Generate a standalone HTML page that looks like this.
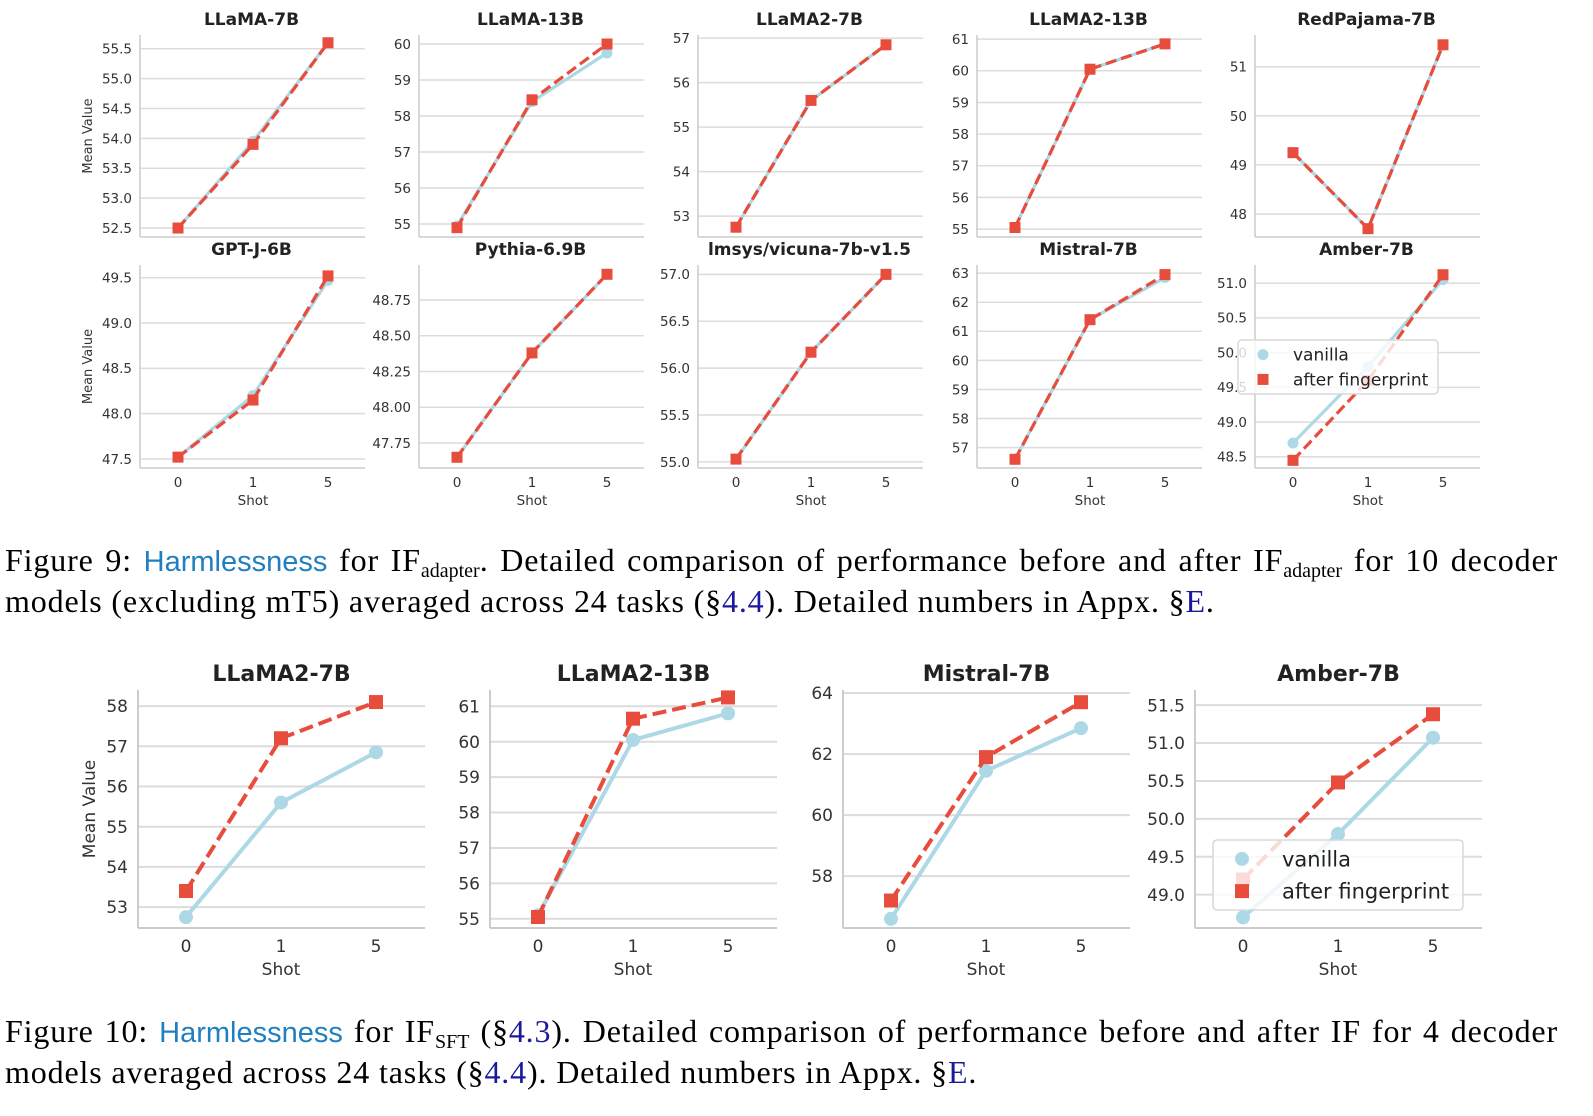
<!DOCTYPE html>
<html><head><meta charset="utf-8">
<style>
html,body{margin:0;padding:0;background:#fff;}
body{width:1593px;height:1116px;position:relative;overflow:hidden;}
svg{position:absolute;left:0;top:0;}
.cap{position:absolute;left:5px;width:1553px;font-family:"Liberation Serif",serif;font-size:32px;letter-spacing:0.85px;color:#000;white-space:nowrap;line-height:34px;}
.j{text-align:justify;text-align-last:justify;}
.hl{font-family:"Liberation Sans",sans-serif;color:#1f7fc0;font-size:29px;letter-spacing:0;}
.rf{color:#1a1a9c;}
sub{font-size:20px;vertical-align:-6px;line-height:0;letter-spacing:0;}
</style></head>
<body>
<svg id="chart" width="1593" height="1116"></svg>
<div class="cap j" style="top:543px">Figure 9: <span class="hl">Harmlessness</span> for IF<sub>adapter</sub>. Detailed comparison of performance before and after IF<sub>adapter</sub> for 10 decoder</div>
<div class="cap" style="top:584px">models (excluding mT5) averaged across 24 tasks (§<span class="rf">4.4</span>). Detailed numbers in Appx. §<span class="rf">E</span>.</div>
<div class="cap j" style="top:1014px">Figure 10: <span class="hl">Harmlessness</span> for IF<sub>SFT</sub> (§<span class="rf">4.3</span>). Detailed comparison of performance before and after IF for 4 decoder</div>
<div class="cap" style="top:1055px">models averaged across 24 tasks (§<span class="rf">4.4</span>). Detailed numbers in Appx. §<span class="rf">E</span>.</div>
<script>
const categories = ["0","1","5"];
const titles = ["LLaMA-7B","LLaMA-13B","LLaMA2-7B","LLaMA2-13B","RedPajama-7B","GPT-J-6B","Pythia-6.9B","lmsys/vicuna-7b-v1.5","Mistral-7B","Amber-7B","LLaMA2-7B","LLaMA2-13B","Mistral-7B","Amber-7B"];
const vanilla = [[52.5,53.95,55.6],[54.95,58.4,59.75],[52.75,55.6,56.85],[55.05,60.05,60.85],[49.25,47.7,51.45],[47.52,48.2,49.47],[47.65,48.38,48.93],[55.03,56.17,57.0],[56.6,61.4,62.85],[48.7,49.8,51.05],[52.75,55.6,56.85],[55.1,60.05,60.8],[56.6,61.45,62.85],[48.7,49.8,51.07]];
const fingerprint = [[52.5,53.9,55.6],[54.9,58.45,60.0],[52.75,55.6,56.85],[55.05,60.05,60.85],[49.25,47.7,51.45],[47.52,48.15,49.52],[47.65,48.38,48.93],[55.03,56.17,57.0],[56.6,61.4,62.95],[48.45,49.6,51.12],[53.4,57.2,58.1],[55.05,60.65,61.25],[57.2,61.9,63.7],[49.2,50.48,51.38]];
const yDomains = [[52.35,55.73],[54.64,60.25],[52.53,57.07],[54.75,61.13],[47.53,51.65],[47.4,49.64],[47.575,48.995],[54.935,57.1],[56.3,63.28],[48.34,51.26],[52.48,58.4],[54.74,61.46],[56.3,64.1],[48.56,51.7]];
const yTicks = [["52.5","53.0","53.5","54.0","54.5","55.0","55.5"],["55","56","57","58","59","60"],["53","54","55","56","57"],["55","56","57","58","59","60","61"],["48","49","50","51"],["47.5","48.0","48.5","49.0","49.5"],["47.75","48.00","48.25","48.50","48.75"],["55.0","55.5","56.0","56.5","57.0"],["57","58","59","60","61","62","63"],["48.5","49.0","49.5","50.0","50.5","51.0"],["53","54","55","56","57","58"],["55","56","57","58","59","60","61"],["58","60","62","64"],["49.0","49.5","50.0","50.5","51.0","51.5"]];

const NS="http://www.w3.org/2000/svg";
const svg=document.getElementById('chart');
function mk(tag,attrs,parent){const e=document.createElementNS(NS,tag);for(const k in attrs)e.setAttribute(k,attrs[k]);(parent||svg).appendChild(e);return e;}
const VC="#add8e6", FC="#e74c3c";
const topLefts=[140,419,698,977,1255];
function layout(i){
  if(i<10){const c=i%5,r=Math.floor(i/5);return {L:topLefts[c],W:225,T:r?265:35,B:r?468:237,off:38,sp:75,big:false,row:r};}
  const c=i-10;return {L:[138,490,843,1195][c],W:287,T:690,B:928,off:48,sp:95,big:true,row:2};
}
for(let i=0;i<titles.length;i++){
  const g=mk('g',{});
  
  
  const p=layout(i);const [y0,y1]=yDomains[i];
  const ys=v=>p.B-(v-y0)/(y1-y0)*(p.B-p.T);
  const xs=j=>p.L+p.off+j*p.sp;
  const fs=p.big?17:13.5;
  yTicks[i].forEach(t=>{const y=ys(parseFloat(t));
    const gl=mk('line',{x1:p.L,x2:p.L+p.W,y1:y,y2:y,stroke:"#dcdcdc","stroke-width":p.big?2:1.5},g);
    
    
    const tx=mk('text',{x:p.L-(p.big?10:8),y:y+fs*0.36,"text-anchor":"end","font-family":"DejaVu Sans, sans-serif","font-size":fs,fill:"#333"},g);tx.textContent=t;
    
    
  });
  mk('line',{x1:p.L,x2:p.L,y1:p.T,y2:p.B,stroke:"#cccccc","stroke-width":p.big?2:1.5},g);
  mk('line',{x1:p.L,x2:p.L+p.W,y1:p.B,y2:p.B,stroke:"#cccccc","stroke-width":p.big?2:1.5},g);
  const tt=mk('text',{x:p.L+p.W/2-(p.big?0:(p.off-37)),y:p.T-(p.big?9:10),"text-anchor":"middle","font-family":"DejaVu Sans, sans-serif","font-weight":"bold","font-size":p.big?22:17,fill:"#222"},g);tt.textContent=titles[i];
  
  
  if(p.row>=1){
    categories.forEach((c,j)=>{const t=mk('text',{x:xs(j),y:p.B+(p.big?24:19),"text-anchor":"middle","font-family":"DejaVu Sans, sans-serif","font-size":fs,fill:"#333"},g);t.textContent=c;
      
      });
    const xl=mk('text',{x:xs(1),y:p.B+(p.big?47:37),"text-anchor":"middle","font-family":"DejaVu Sans, sans-serif","font-size":fs,fill:"#333"},g);xl.textContent="Shot";
    
    
  }
  if(i===0||i===5||i===10){
    const cy=(p.T+p.B)/2, cx=p.big?95:92;
    const yl=mk('text',{x:cx,y:cy,"text-anchor":"middle",transform:`rotate(-90 ${cx} ${cy})`,"font-family":"DejaVu Sans, sans-serif","font-size":p.big?17:13,fill:"#333"},g);yl.textContent="Mean Value";
    
    
  }
  const lw=p.big?4:3.2;
  const vl=mk('polyline',{points:vanilla[i].map((v,j)=>xs(j)+","+ys(v)).join(" "),fill:"none",stroke:VC,"stroke-width":lw},g);
  
  
  vanilla[i].forEach((v,j)=>{const c=mk('circle',{cx:xs(j),cy:ys(v),r:p.big?7:5.5,fill:VC},g);
    
    });
  const fl=mk('polyline',{points:fingerprint[i].map((v,j)=>xs(j)+","+ys(v)).join(" "),fill:"none",stroke:FC,"stroke-width":lw,"stroke-dasharray":p.big?"14,6":"11,5"},g);
  
  
  const s=p.big?14:11;
  fingerprint[i].forEach((v,j)=>{const r=mk('rect',{x:xs(j)-s/2,y:ys(v)-s/2,width:s,height:s,fill:FC},g);
    
    });
}
function legend(x,y,w,h,big){
  const g=mk('g',{});
  
  
  mk('rect',{x:x,y:y,width:w,height:h,rx:4,fill:"rgba(255,255,255,0.8)",stroke:"#d8d8d8","stroke-width":1.5},g);
  const fs=big?21:17, mx=x+(big?29:25), tx=x+(big?69:55), r1=y+h*0.27, r2=y+h*0.73;
  mk('circle',{cx:mx,cy:r1,r:big?7:5.5,fill:VC},g);
  const s=big?14:11;
  mk('rect',{x:mx-s/2,y:r2-s/2,width:s,height:s,fill:FC},g);
  const a=mk('text',{x:tx,y:r1+fs*0.36,"font-family":"DejaVu Sans, sans-serif","font-size":fs,fill:"#222"},g);a.textContent="vanilla";
  
  
  const b=mk('text',{x:tx,y:r2+fs*0.36,"font-family":"DejaVu Sans, sans-serif","font-size":fs,fill:"#222"},g);b.textContent="after fingerprint";
  
  
}
legend(1238,340,200,54,false);
legend(1213,840,250,70,true);
</script>
</body></html>
